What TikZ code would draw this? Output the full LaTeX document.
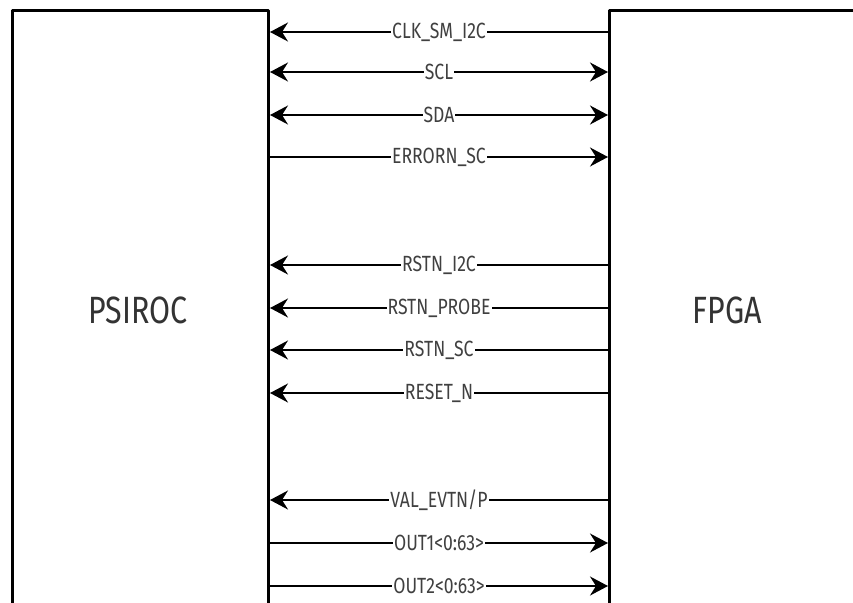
\documentclass[tikz,border=0pt]{standalone}
\usepackage{fontspec}
\setmainfont[FakeStretch=0.8]{Fira Sans}
\usetikzlibrary{arrows.meta}
\tikzset{
	blk/.style={draw,line width=3pt,anchor=north west,minimum height=700pt,inner sep=0pt},
	sig/.style={line width=2pt,>={Stealth[length=18pt,width=19pt,inset=6pt]}},
	lab/.style={fill=white,inner sep=1pt,text=black!75,font=\fontsize{22}{22}\selectfont},
	big/.style={text=black!80,font=\fontsize{38}{38}\selectfont}
}
\begin{document}
\begin{tikzpicture}[x=1pt,y=-1pt,line join=round]
	\useasboundingbox (0,0) rectangle (853,602);
	\clip (0,0) rectangle (853,602);
	\node[blk,minimum width=256pt] (psiroc) at (11,9) {};
	\node[blk,minimum width=300pt] (fpga) at (608,9) {};
	\node[big] (psirocname) at (138,310) {PSIROC};
	\node[big] (fpganame) at (727,310) {FPGA};
	\foreach \y/\dir/\lab in {
		32/<-/CLK\_SM\_I2C, 72/<->/SCL, 115/<->/SDA, 157/->/ERRORN\_SC,
		265/<-/RSTN\_I2C, 308/<-/RSTN\_PROBE, 350/<-/RSTN\_SC, 393/<-/RESET\_N,
		500/<-/{VAL\_EVTN/P}, 543/->/OUT1<0:63>, 586/->/OUT2<0:63>
	} {
		\coordinate (l\y) at (psiroc.east |- 0,\y);
		\coordinate (r\y) at (fpga.west |- 0,\y);
		\draw[sig,\dir] (l\y) -- node[lab] {\lab} (r\y);
	}
\end{tikzpicture}
\end{document}
